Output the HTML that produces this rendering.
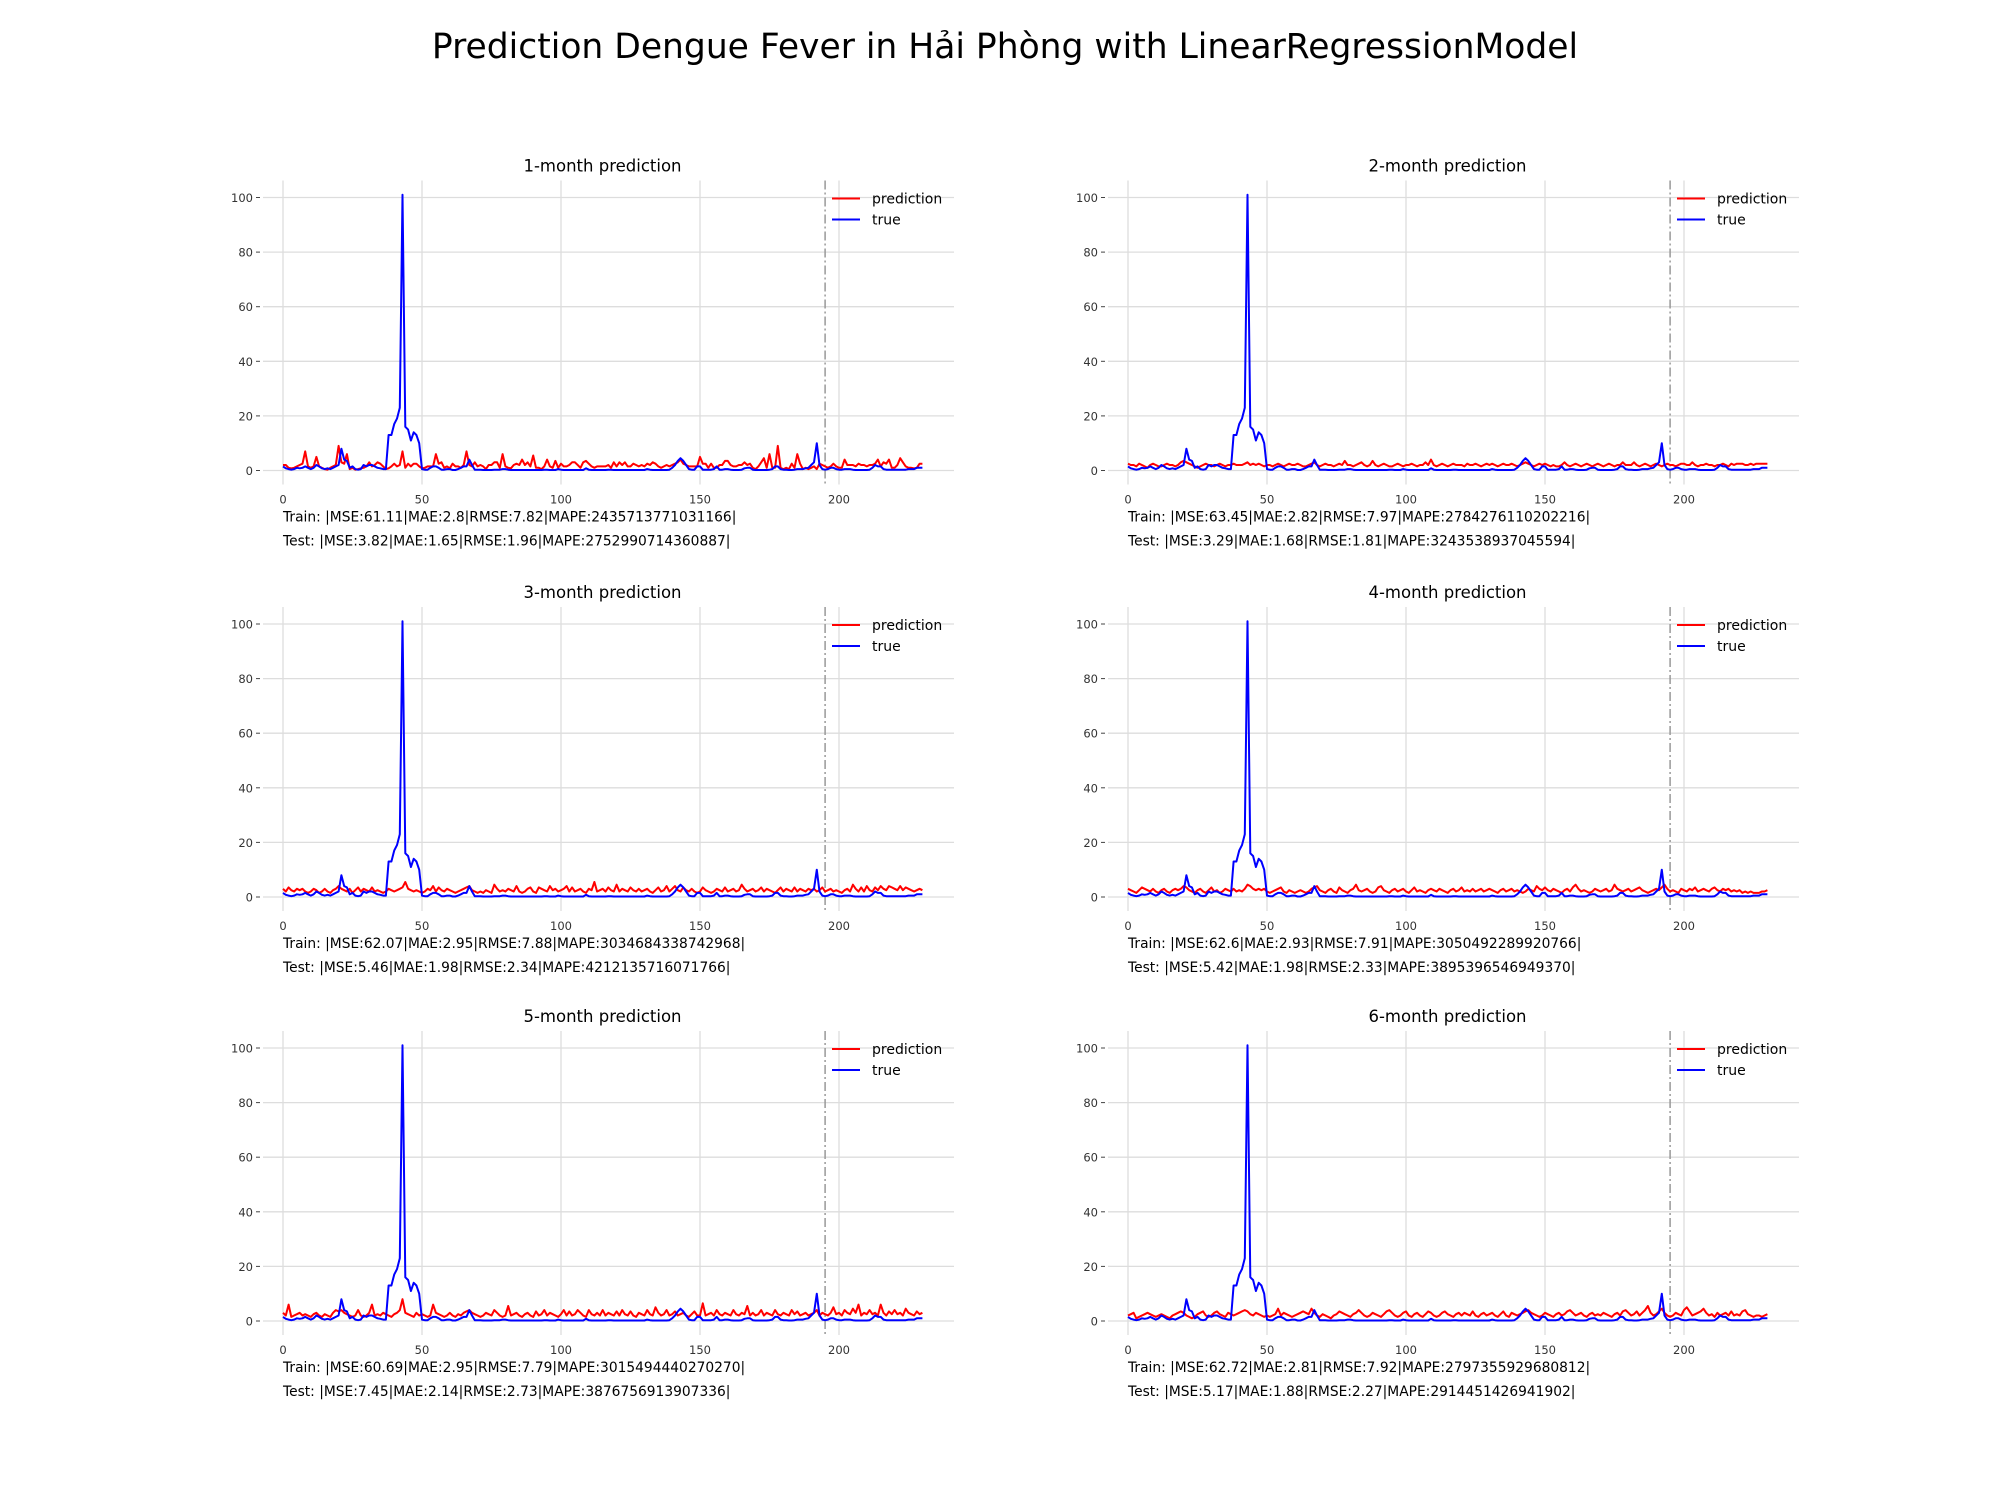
<!DOCTYPE html>
<html><head><meta charset="utf-8"><style>
html,body{margin:0;padding:0;background:#fff;}
svg{display:block;font-family:"DejaVu Sans","Liberation Sans",sans-serif;}
</style></head><body>
<svg id="fig" width="2000" height="1500" viewBox="0 0 2000 1500" xmlns="http://www.w3.org/2000/svg">
<rect width="2000" height="1500" fill="#fff"/>
<text x="1005" y="58" font-size="34.5" text-anchor="middle" fill="#000">Prediction Dengue Fever in Hải Phòng with LinearRegressionModel</text>
</svg>
<script>
const trueVals = [1.5,0.8,0.5,0.3,0.5,1,0.8,1,1.5,1,0.5,1,2,1.5,0.8,0.5,0.8,0.5,1,1.5,2,8,4,3.5,1,1.5,0.5,0.3,0.5,2,1.5,2,2,1.5,1,0.8,0.5,0.5,13,13,17,19,23,101,16,15,11,14,13,10,0.5,0.3,0.3,1,1.5,1.5,1,0.3,0.3,0.5,0.5,0.2,0.2,0.5,1,1.5,1.5,4,2,0.3,
0.3,0.3,0.2,0.2,0.2,0.2,0.3,0.3,0.3,0.5,0.5,0.3,0.2,0.2,0.2,0.2,0.2,0.2,0.2,0.2,0.2,0.2,0.2,0.2,0.3,0.3,0.2,0.2,0.2,0.5,
0.3,0.2,0.2,0.2,0.2,0.2,0.2,0.2,0.2,0.8,0.3,0.2,0.2,0.2,0.2,0.2,0.2,0.3,0.3,0.2,0.2,0.2,0.2,0.2,0.2,0.2,0.2,0.2,0.2,0.2,0.2,0.5,0.3,0.2,0.2,0.2,0.2,0.2,0.2,0.3,
1,2,3.5,4.5,3.5,2,0.5,0.3,0.3,1.5,1.5,0.3,0.3,0.3,0.3,0.5,1.5,0.3,0.3,0.5,0.5,0.3,0.2,0.2,0.2,0.3,0.8,1,1,0.3,
0.2,0.2,0.2,0.2,0.2,0.3,0.5,1.5,1.5,0.5,0.3,0.3,0.2,0.2,0.3,0.5,0.5,0.5,0.8,1,2,3,10,2,0.5,0.3,0.5,1,1,0.5,
0.3,0.3,0.5,0.5,0.5,0.3,0.2,0.2,0.2,0.2,0.2,0.3,1,2,1.5,1.5,0.5,0.3,0.3,0.3,0.3,0.3,0.3,0.3,0.3,0.5,0.5,0.5,1,1,1];
const pred1 = [2,2,1,0.8,1,1.5,2,2.5,7,1.5,1,1.5,5,1.5,1,0.5,0.3,1,1.5,2,9,3,2.5,6,0.5,1,0.3,0.5,0.8,1,1.5,3,1.5,2,3,2.5,1.5,0.5,0.8,1.5,2.5,1.5,2,7,1,2.5,1.5,2.5,2.5,1.5,0.8,1,1.5,1.5,1.5,6,2.5,3,1,1.5,0.8,2.5,1.5,1.5,1,2,7,2,1.5,3,1.5,2,1.5,0.5,2,2,3,3,1,6,1.5,1,0.8,2,2.5,2,4,2,3,1.5,5.5,1,1,0.5,1.5,4,1.5,1,3.5,1,2.5,1.5,1.5,2,3,3,2,1,3,3.5,2.5,1.5,1,1.5,1.5,1.5,1.5,2,1,3,1.5,3,2,3,1.5,1.5,2.5,2,1.5,2,1.5,2.5,2,3,2.5,1.5,1,1.5,2,1.5,2,2.5,3,4,2.5,2,1.5,1.5,1.5,1.5,5,2.5,2.5,1,2.5,1,1,2,2,3.5,3.5,2,1.5,1.5,2,2,3,2,2.5,1,0.5,1.5,3,4.5,1,6,1,1,9,1,0.5,1,0.5,2.5,1,6,2.5,0.5,1,0.5,1,1.5,0.5,2.5,2,1.5,1,1.5,2.5,1.5,1,1,4,2,2,2,1.5,2.5,2,2,1.5,2,2,2.5,4,1.5,3,2.5,4,1,1,2,4.5,3,1.5,1,1,0.8,1,2.5,2.5];
const pred2 = [2.5,2,2,1.5,2.5,2,1.5,1,2,2.5,2,1.5,1.5,2,2.5,2,2,1.5,2,3,3.5,3,2.5,2,1.5,1,1.5,2,2.5,2,2,1.5,2,2.5,2,1.5,2,2,2.5,2,2,2,2.5,3,2,2.5,2,2.5,2,1.5,2,2,1.5,2,2.5,2,1.5,2,2.5,2,2,2.5,2,1.5,1.5,2,2.5,3,2,1.5,2,2.5,2,2,1.5,2,2.5,2,3.5,2,2,1.5,2,2.5,3,2,1.5,2,3.5,2,1.5,2,2.5,2,1.5,1.5,2,2.5,2,1.5,2,2,2.5,2,1.5,2,2,3,2,4,2,1.5,2,2.5,2,1.5,2,2.5,2,2,2,1.5,2.5,2,2,2.5,2,1.5,2,2.5,2,2.5,2,1.5,2,2.5,2,2,2.5,2,1.5,2,2.5,3,2.5,2,1.5,2,2.5,2,2.5,2,1.5,2,1.5,1.5,2,3,2,1.5,2,2.5,2,1.5,2,2.5,2,1.5,2,2.5,2,1.5,2,2.5,2,1.5,2,2,3,2,2,2,3,2,1.5,2,2.5,2,1.5,2,2.5,2,1.5,2,2.5,2,2,1.5,2,2.5,2.5,2,2,3,2,1.5,2,2,2.5,2,2,1.5,2,2,2.5,2,1.5,2.5,2,2.5,2.5,2.5,2,2,2.5,2,2.5,2.5,2.5,2.5,2.5];
const pred3 = [3,2,3.5,2.5,2,3,2.5,3,2,1.5,2,3,2.5,1.5,2,3,2,1.5,2.5,3,4,3,2.5,2,3,1.5,2.5,3.5,2,3,2.5,2,3.5,2,2.5,2,1.5,2,3,2.5,2,2.5,3,3.5,5.5,3,2.5,2,2.5,2,1.5,2,3,2.5,4,2,3.5,2.5,2,3,2.5,2,1.5,2,2.5,3,3.5,4,2.5,2,1.5,2,1.5,2.5,2,1.5,4.5,3,2,2.5,2,3,2.5,2,4,2,1.5,2,3,3.5,2,1.5,3.5,3,2.5,2,4,2.5,3,2,2.5,3,4,2,3.5,2,2.5,3,2,1.5,3,2.5,5.5,2,2.5,3,2,3.5,2.5,2,4.5,2,3,2.5,2,3.5,2.5,2,3,2,2.5,3,2,1.5,2.5,3.5,2,2.5,4,2,3,4,2.5,2,3.5,2.5,2,3,2,1.5,2,3.5,2.5,2,1.5,2,3,2.5,2,3.5,2,2.5,3,2,2.5,4.5,3,2,2.5,3,2,2.5,3.5,2,3,2.5,2,1.5,2.5,3.5,2,3,2.5,2,3.5,2,3,2.5,2,3,2.5,3,2,2.5,3.5,2,2.5,3,2,2.5,2,1.5,2.5,3,2,4.5,3,2,3.5,2,4,2.5,2,3.5,2.5,4,3,2.5,4,3.5,3,2.5,4,2.5,3.5,3,2.5,2,2.5,3,2.5];
const pred4 = [3,2.5,2,1.5,2.5,3.5,3,2.5,2,3,2,1.5,2.5,3,2,1.5,2.5,3,2.5,3,4,3.5,2.5,2,1.5,2.5,3,2,1.5,2.5,3.5,2,2.5,1.5,2,3,2.5,2,3,2,2.5,2,3,4.5,4,3,2.5,3,2.5,3,2,1.5,2,2.5,3,3.5,2,1.5,2.5,2,1.5,2,2.5,2,1.5,2,3,3.5,4,2.5,2,1.5,2.5,3,2,1.5,3.5,2.5,2,1.5,2.5,3,4.5,2.5,2,2.5,3,2,1.5,2,3.5,4,2.5,2,1.5,2.5,3,2,2.5,3,2,1.5,2.5,3.5,2,2.5,2,1.5,2.5,3,2.5,2,3,2.5,2,1.5,2.5,3,2,2.5,3.5,2,2.5,2,3,2,2.5,3,2,2.5,3,2.5,2,1.5,2.5,3,2,2.5,3,2,2.5,2,1.5,2,3,2.5,2,4,3,2.5,3.5,2.5,2,3,2.5,2,1.5,2.5,3,2,3.5,4.5,3,2,2.5,2,1.5,2,3,2.5,2,2.5,3,2,2.5,4.5,3,2.5,2,2.5,3,2,2.5,3,3.5,2.5,2,1.5,2,2.5,3,2.5,3.5,4.5,3,2,2.5,2,1.5,3,2.5,2,3,2.5,3.5,2,2.5,3,2.5,2,3,3.5,2.5,2,3,2.5,3,2,2.5,2,2.5,1.5,2,1.5,2,1.5,1.5,1.5,2,2,2.5];
const pred5 = [3,2,6,1.5,2,2.5,3,2,2.5,2,1.5,2.5,3,2,1.5,2.5,2,1.5,3,4,3.5,4,3,2.5,2,1.5,2,4,2,1.5,2,3,6,2,2.5,2,3,2.5,2,1.5,2.5,3,4,8,3,2.5,2,1.5,3,2,2.5,2,1.5,2,6,3,2.5,2,1.5,2,3,2,1.5,2.5,2,3,3.5,4,3,2.5,2,1.5,2,3,2.5,2,4,3,2,1.5,2,5.5,2,2.5,3,2,1.5,2.5,3,2,1.5,3.5,2,2.5,4,2,3,2.5,2,1.5,2.5,4,2,3.5,2,2.5,4,3,2,1.5,4,2.5,2,3,2,4,2,3,2.5,2,3.5,2,4,2.5,2,3.5,2,1.5,3,2.5,2,4,2.5,2,5,3,2,2.5,4,2,2.5,3.5,2,2.5,3,2,1.5,2.5,3.5,2,2,6.5,2,2.5,3,2,4,2.5,2,3,2.5,2,4,2.5,2,3,2.5,5.5,2,3,2,2.5,4,2,3,2.5,2,4,2.5,2,3,2.5,2,4,2.5,3.5,2,2.5,3,2,2.5,3,4,2,3,2.5,2,3,5,2.5,3,2,4,3,2.5,4.5,3,6,2,3,2.5,4,2.5,3,2,6,3,2,3.5,2.5,4,2.5,3,2,4.5,3,2.5,2,3.5,2.5,3];
const pred6 = [2,2.5,3,1,1.5,2,2.5,3,2.5,2,1.5,2,2.5,2,1.5,1,2,2.5,3,3.5,3,2,1.5,1,1.5,2.5,3,3.5,2,1.5,2,3,3.5,2.5,2,1.5,3,2.5,2,2.5,3,3.5,4,3.5,2.5,2,3,2.5,2,1.5,2,1.5,2,2.5,4.5,2,3,2.5,2,1.5,2,2.5,3,3.5,3,2.5,4.5,3,2,1.5,2.5,2,1.5,1,2,2.5,3.5,3,2.5,2,1.5,2.5,3,4,3,2,1.5,2,3,2.5,2,1.5,2.5,3.5,4,3,2,1.5,2,3,3.5,2,1.5,2.5,3,2,1.5,2.5,3.5,3,2,1.5,2,3,3.5,2.5,2,1.5,2.5,3,2,3,2.5,2,3.5,2,1.5,2.5,3,2,2.5,3,2,1.5,2.5,3.5,2,1.5,3,2.5,2,2.5,3,3.5,4,3,2.5,2,1.5,2,3,2.5,2,1.5,2.5,3,2,2.5,3.5,4,3,2,2.5,3,2,1.5,2.5,3,2,2.5,2,3,2.5,2,1.5,2.5,3,2,3.5,4,3,2,2.5,3.5,2,3,4,5.5,3,2,2.5,3.5,4.5,3,2,1.5,2,3,2.5,2,4,5,3.5,2,2.5,3,3.5,4.5,3,2,2.5,1.5,3,2,2.5,3,2,3.5,2,2.5,2,3.5,4,2.5,2,1.5,2,2,1.5,2,2.5];
const panelTitles = ["1-month prediction","2-month prediction","3-month prediction","4-month prediction","5-month prediction","6-month prediction"];
const trainTexts = ["Train: |MSE:61.11|MAE:2.8|RMSE:7.82|MAPE:2435713771031166|","Train: |MSE:63.45|MAE:2.82|RMSE:7.97|MAPE:2784276110202216|","Train: |MSE:62.07|MAE:2.95|RMSE:7.88|MAPE:3034684338742968|","Train: |MSE:62.6|MAE:2.93|RMSE:7.91|MAPE:3050492289920766|","Train: |MSE:60.69|MAE:2.95|RMSE:7.79|MAPE:3015494440270270|","Train: |MSE:62.72|MAE:2.81|RMSE:7.92|MAPE:2797355929680812|"];
const testTexts = ["Test: |MSE:3.82|MAE:1.65|RMSE:1.96|MAPE:2752990714360887|","Test: |MSE:3.29|MAE:1.68|RMSE:1.81|MAPE:3243538937045594|","Test: |MSE:5.46|MAE:1.98|RMSE:2.34|MAPE:4212135716071766|","Test: |MSE:5.42|MAE:1.98|RMSE:2.33|MAPE:3895396546949370|","Test: |MSE:7.45|MAE:2.14|RMSE:2.73|MAPE:3876756913907336|","Test: |MSE:5.17|MAE:1.88|RMSE:2.27|MAPE:2914451426941902|"];
const yTicks = [0,20,40,60,80,100];
const xTicks = [0,50,100,150,200];
const splitIndex = 195;

const preds = [pred1,pred2,pred3,pred4,pred5,pred6];
const NS = "http://www.w3.org/2000/svg";
const svg = document.getElementById('fig');
function mk(tag, attrs, parent){ const e=document.createElementNS(NS,tag); for(const k in attrs) e.setAttribute(k,attrs[k]); (parent||svg).appendChild(e); return e; }

for(let p=0;p<6;p++){
  const col=p%2, row=Math.floor(p/2);
  const x0 = col===0?283:1128;
  const xs = 2.78;
  const y0 = [470.5,897,1321][row];
  const ys = 2.73;
  const X = v=>x0+v*xs;
  const Y = v=>y0-v*ys;
  const left=x0-20, right=x0+671, top=Y(100)-17, bottom=y0+14;
  const g = mk('g',{});
  
  
  const t = mk('text',{x:(left+right)/2-6,y:Y(100)-26,'font-size':16.5,'text-anchor':'middle',fill:'#000'},g);
  t.textContent=panelTitles[p];
  
  
  for(const v of yTicks){
    const l=mk('line',{x1:left,x2:right,y1:Y(v),y2:Y(v),stroke:'#dddddd','stroke-width':1.3},g);
    
    
    mk('line',{x1:left-7,x2:left-3,y1:Y(v),y2:Y(v),stroke:'#444','stroke-width':1},g);
    const tl=mk('text',{x:left-10,y:Y(v)+4.5,'font-size':11.5,'text-anchor':'end',fill:'#333'},g);
    tl.textContent=v;
    
    
  }
  for(const v of xTicks){
    const l=mk('line',{x1:X(v),x2:X(v),y1:top,y2:bottom,stroke:'#dddddd','stroke-width':1.3},g);
    
    
    const tl=mk('text',{x:X(v),y:y0+33,'font-size':11.5,'text-anchor':'middle',fill:'#333'},g);
    tl.textContent=v;
    
    
  }
  const vl=mk('line',{x1:X(splitIndex),x2:X(splitIndex),y1:top,y2:bottom,stroke:'#999','stroke-width':1.5,'stroke-dasharray':'9,3,2,3'},g);
  
  
  const pts = a=>a.map((v,i)=>X(i).toFixed(1)+','+Y(v).toFixed(1)).join(' ');
  const pl=mk('polyline',{points:pts(preds[p]),fill:'none',stroke:'#ff0000','stroke-width':2,'stroke-linejoin':'round'},g);
  
  
  const tl2=mk('polyline',{points:pts(trueVals),fill:'none',stroke:'#0000ff','stroke-width':2,'stroke-linejoin':'round'},g);
  
  
  const lg=mk('g',{},g);
  
  
  mk('line',{x1:x0+549,x2:x0+577,y1:Y(100)+1,y2:Y(100)+1,stroke:'#ff0000','stroke-width':2},lg);
  const le1=mk('text',{x:x0+589,y:Y(100)+6,'font-size':14,fill:'#000'},lg);
  le1.textContent='prediction';
  
  
  mk('line',{x1:x0+549,x2:x0+577,y1:Y(100)+22,y2:Y(100)+22,stroke:'#0000ff','stroke-width':2},lg);
  const le2=mk('text',{x:x0+589,y:Y(100)+27,'font-size':14,fill:'#000'},lg);
  le2.textContent='true';
  
  
  const tr=mk('text',{x:x0,y:y0+51,'font-size':13.8,fill:'#000'},g);
  tr.textContent=trainTexts[p];
  
  
  const te=mk('text',{x:x0,y:y0+75,'font-size':13.8,fill:'#000'},g);
  te.textContent=testTexts[p];
  
  
}
</script>
</body></html>
